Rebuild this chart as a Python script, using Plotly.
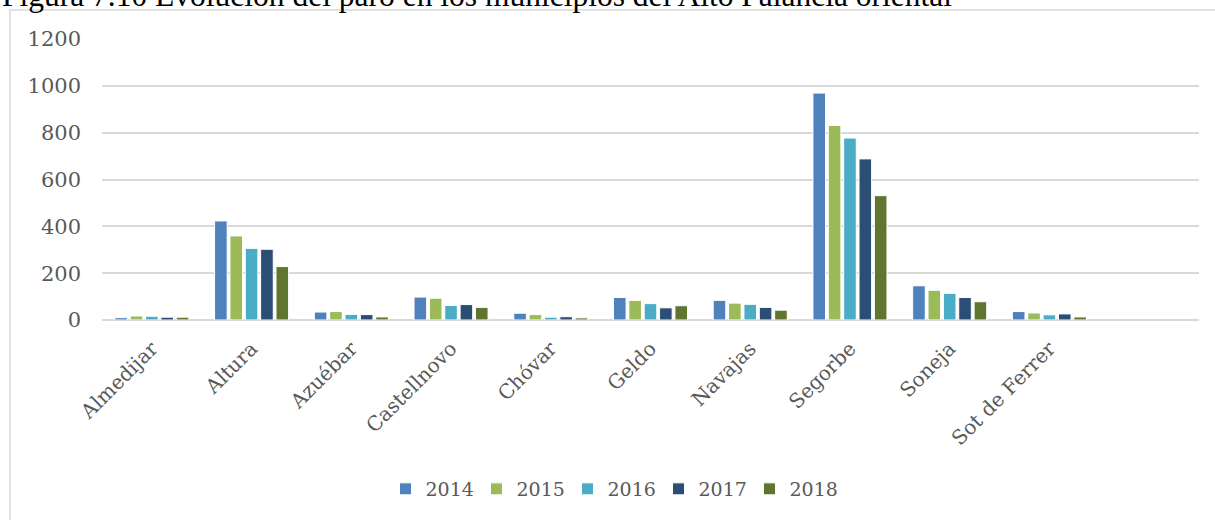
import plotly.graph_objects as go

# municipios (the 11th slot on the axis is left empty, as in the original)
municipios = ['Almedijar', 'Altura', 'Azuébar', 'Castellnovo', 'Chóvar', 'Geldo',
              'Navajas', 'Segorbe', 'Soneja', 'Sot de Ferrer']

# paro registrado por año
paro_2014 = [10, 423, 34, 98, 29, 96, 84, 969, 146, 36]
paro_2015 = [17, 359, 36, 93, 23, 84, 72, 831, 127, 30]
paro_2016 = [16, 306, 24, 62, 12, 70, 67, 777, 114, 22]
paro_2017 = [12, 302, 23, 66, 14, 52, 54, 688, 96, 26]
paro_2018 = [12, 228, 13, 54, 9, 61, 42, 531, 78, 13]

years = ['2014', '2015', '2016', '2017', '2018']
series = [paro_2014, paro_2015, paro_2016, paro_2017, paro_2018]
colors = ['#4F81BD', '#9BBB59', '#4BACC6', '#2C4D75', '#5F7530']

titulo = 'Figura 7.10 Evolución del paro en los municipios del Alto Palancia oriental'

W, H = 1215, 520
L, R, T, B = 102, 16, 39, 200
pw, ph = W - L - R, H - T - B

# helpers to turn pixel positions into paper coords (for the frame / title)
def px_x(p):
    return (p - L) / pw

def px_y(p):
    return (H - B - p) / ph

fig = go.Figure()
for yr, vals, col in zip(years, series, colors):
    fig.add_trace(go.Bar(name=yr, x=municipios, y=vals, marker=dict(color=col, line=dict(color='white', width=1))))

grey = '#595959'
fig.update_layout(
    width=W, height=H,
    margin=dict(l=L, r=R, t=T, b=B),
    paper_bgcolor='white', plot_bgcolor='white',
    barmode='group', bargap=0.23, bargroupgap=0.18,
    font=dict(family='DejaVu Serif', size=20, color=grey),
    xaxis=dict(type='category', categoryorder='array', categoryarray=municipios,
               range=[-0.5, 10.5], tickangle=-45, showgrid=False,
               showline=False, ticks='', ticklabelstandoff=12,
               tickfont=dict(size=20, color=grey)),
    yaxis=dict(range=[0, 1200], dtick=200, showgrid=True, gridcolor='#D9D9D9', gridwidth=1.5,
               zeroline=True, zerolinecolor='#D9D9D9', zerolinewidth=1.5,
               showline=False, ticks='', ticklabelstandoff=20, tickfont=dict(size=21, color=grey)),
    legend=dict(orientation='h', x=px_x(613), xanchor='center', y=px_y(489), yanchor='middle',
                font=dict(size=19, color=grey), traceorder='normal',
                entrywidth=46, entrywidthmode='pixels'),
    showlegend=True,
)

# chart frame (light grey, open at right / bottom like the source crop)
fig.add_shape(type='rect', xref='paper', yref='paper',
              x0=px_x(10), x1=px_x(1230), y0=px_y(560), y1=px_y(10),
              line=dict(color='#D9D9D9', width=1.5), layer='below')

# figure caption, clipped at the top of the page
fig.add_annotation(text=titulo, xref='paper', yref='paper', x=px_x(0), xanchor='left',
                   y=px_y(15), yanchor='bottom', showarrow=False,
                   font=dict(family='Liberation Serif', size=31.5, color='black'))

# no page margin so the figure sits at the window's top-left corner
fig.write_html('out.html', config={'displayModeBar': False},
               post_script="document.body.style.margin='0';")
